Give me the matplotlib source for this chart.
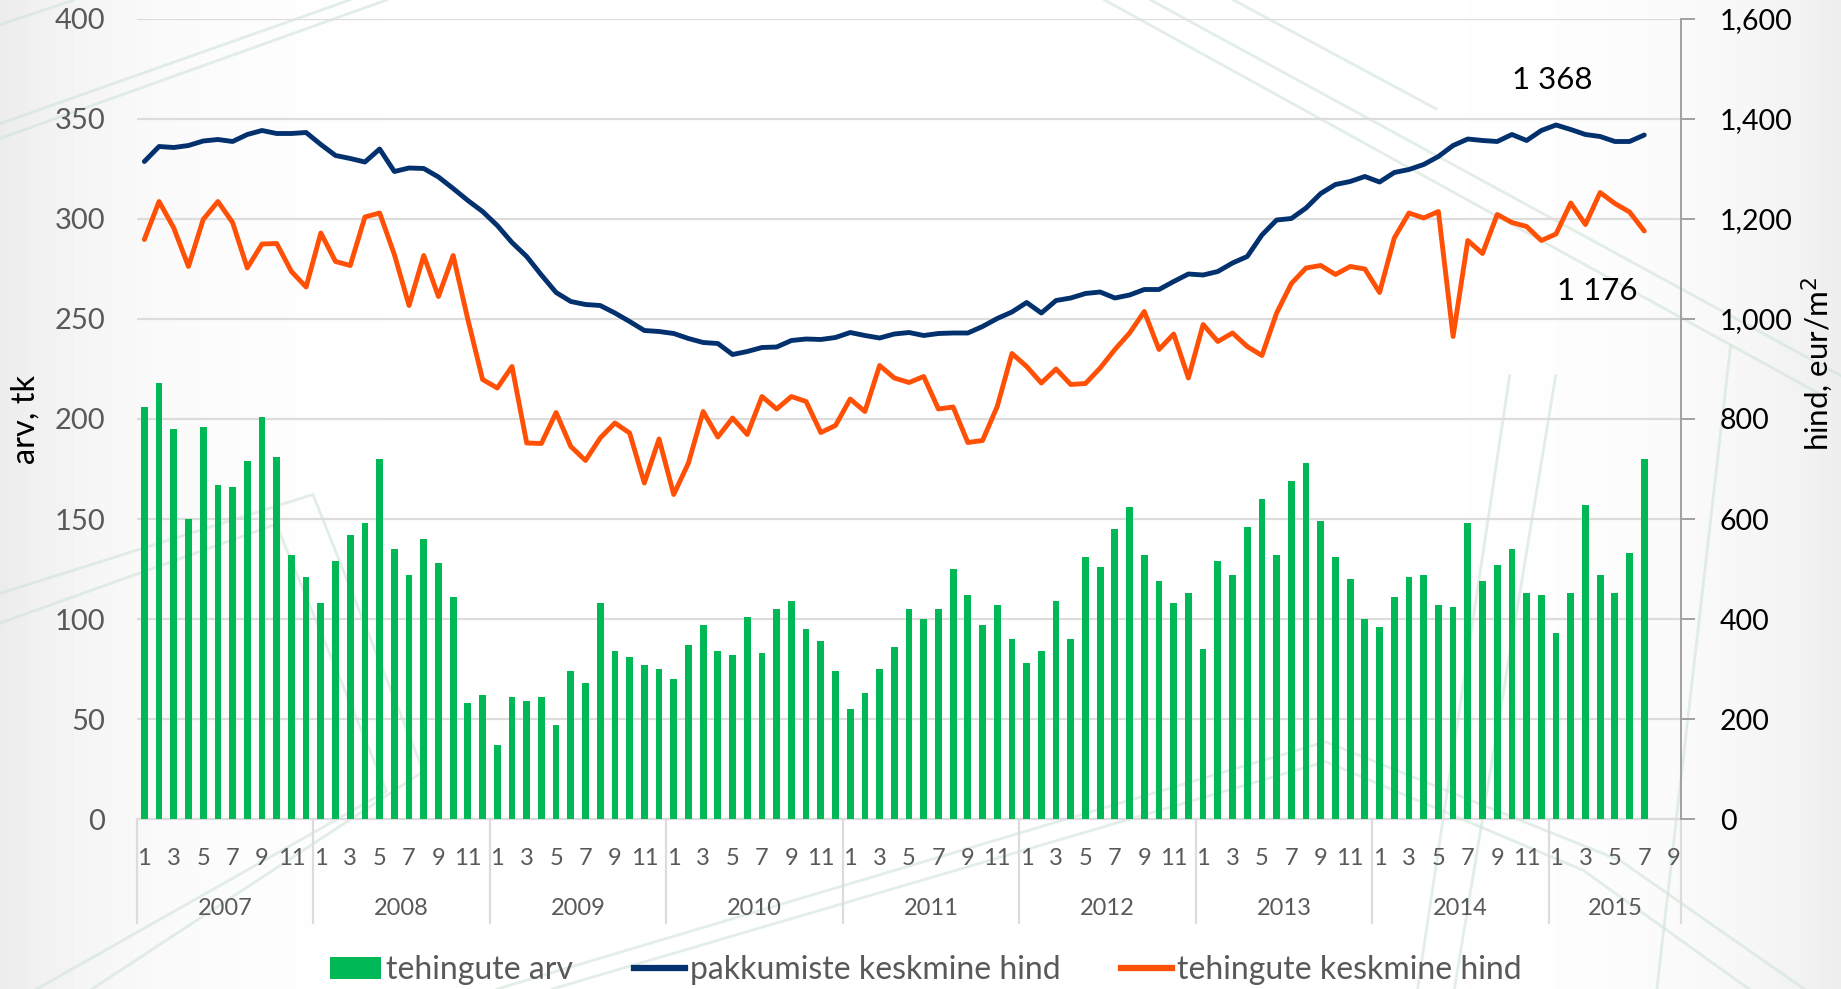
import numpy as np
import matplotlib
matplotlib.use('Agg')
import matplotlib.pyplot as plt
from matplotlib.lines import Line2D
from matplotlib.patches import Patch
import matplotlib.ticker as mticker

plt.rcParams['font.family'] = ['Lato', 'DejaVu Sans']

# andmed: 2007-01 ... 2015-07 (2015 teljel kuni 9. kuuni)
years = ['2007', '2008', '2009', '2010', '2011', '2012', '2013', '2014', '2015']
months_in_year = [12, 12, 12, 12, 12, 12, 12, 12, 9]

tehingute_arv = [
    206, 218, 195, 150, 196, 167, 166, 179, 201, 181, 132, 121,
    108, 129, 142, 148, 180, 135, 122, 140, 128, 111, 58, 62,
    37, 61, 59, 61, 47, 74, 68, 108, 84, 81, 77, 75,
    70, 87, 97, 84, 82, 101, 83, 105, 109, 95, 89, 74,
    55, 63, 75, 86, 105, 100, 105, 125, 112, 97, 107, 90,
    78, 84, 109, 90, 131, 126, 145, 156, 132, 119, 108, 113,
    85, 129, 122, 146, 160, 132, 169, 178, 149, 131, 120, 100,
    96, 111, 121, 122, 107, 106, 148, 119, 127, 135, 113, 112,
    93, 113, 157, 122, 113, 133, 180,
]

pakkumiste_hind = [
    1315, 1345, 1343, 1347, 1356, 1359, 1355, 1369, 1377, 1371, 1371, 1373,
    1349, 1327, 1321, 1314, 1340, 1295, 1302, 1301, 1284, 1261, 1237, 1215,
    1187, 1153, 1125, 1088, 1053, 1035, 1029, 1027, 1012, 995, 977, 975,
    971, 961, 953, 951, 929, 935, 943, 944, 957, 960, 959, 963,
    973, 967, 962, 970, 973, 967, 971, 972, 972, 985, 1001, 1014,
    1033, 1012, 1037, 1042, 1051, 1054, 1042, 1048, 1059, 1059, 1075, 1090,
    1088, 1095, 1112, 1125, 1168, 1198, 1201, 1222, 1251, 1269, 1275, 1285,
    1274, 1293, 1299, 1309, 1325, 1347, 1360, 1357, 1355, 1369, 1357, 1377,
    1388, 1379, 1369, 1365, 1355, 1355, 1368,
]

tehingute_hind = [
    1159, 1235, 1182, 1105, 1199, 1235, 1193, 1102, 1150, 1151, 1095, 1064,
    1172, 1115, 1107, 1204, 1212, 1129, 1027, 1127, 1045, 1127, 999, 879,
    862, 905, 752, 751, 813, 745, 717, 762, 792, 772, 672, 760,
    649, 712, 815, 764, 802, 769, 845, 820, 845, 835, 773, 787,
    840, 815, 907, 882, 873, 885, 820, 824, 753, 757, 825, 931,
    905, 872, 900, 869, 871, 902, 939, 972, 1015, 939, 970, 882,
    989, 955, 972, 945, 927, 1012, 1071, 1102, 1107, 1089, 1105, 1100,
    1053, 1162, 1212, 1202, 1215, 965, 1157, 1131, 1209, 1193, 1185, 1157,
    1170, 1232, 1189, 1253, 1231, 1214, 1176,
]

legend_labels = ['tehingute arv', 'pakkumiste keskmine hind', 'tehingute keskmine hind']

GREEN = '#00B956'
BLUE = '#03316E'
ORANGE = '#FF5005'
GRID = '#dcdcdc'
LBL = '#595959'

n_cat = sum(months_in_year)
x = np.arange(len(tehingute_arv))

fig = plt.figure(figsize=(18.41, 9.89), dpi=100)

# taust: hall serv ja heledad dekoratiivjooned
bg = fig.add_axes([0, 0, 1, 1], zorder=-10)
gx = np.linspace(0, 1, 400)
shade = 1 - 0.075 * np.exp(-gx / 0.07) - 0.07 * np.exp(-(1 - gx) / 0.07)
bg.imshow(np.tile(shade, (10, 1)), cmap='gray', vmin=0, vmax=1, aspect='auto',
          extent=[0, 1, 0, 1])
deco = [
    [(0.0, 0.875), (0.19, 1.0)], [(0.0, 0.86), (0.21, 1.0)],
    [(0.0, 0.975), (0.04, 1.0)],
    [(0.60, 1.0), (0.99, 0.60)], [(0.625, 1.0), (1.0, 0.62)],
    [(0.67, 1.0), (0.78, 0.89)],
    [(0.0, 0.40), (0.17, 0.50), (0.23, 0.22), (0.05, 0.0)],
    [(0.0, 0.37), (0.15, 0.47), (0.21, 0.2), (0.02, 0.0)],
    [(0.27, 0.0), (0.72, 0.25), (0.88, 0.13), (0.98, 0.0)],
    [(0.30, 0.0), (0.72, 0.23), (0.86, 0.12), (0.95, 0.0)],
    [(0.77, 0.0), (0.82, 0.62)], [(0.79, 0.0), (0.845, 0.62)],
    [(0.90, 0.0), (0.94, 0.65)],
]
for pts in deco:
    xs, ys = zip(*pts)
    bg.plot(xs, ys, color='#cfe3d6', lw=2, alpha=0.6)
bg.set_xlim(0, 1)
bg.set_ylim(0, 1)
bg.axis('off')

ax = fig.add_axes([0.07442, 0.17189, 0.83868, 0.80890])
ax.set_facecolor('none')
ax2 = ax.twinx()

ax.bar(x, tehingute_arv, width=0.46, color=GREEN, zorder=3)
ax2.plot(x, pakkumiste_hind, color=BLUE, lw=3.5, solid_joinstyle='round', solid_capstyle='round')
ax2.plot(x, tehingute_hind, color=ORANGE, lw=3.5, solid_joinstyle='round', solid_capstyle='round')

ax.set_xlim(-0.5, n_cat - 0.5)
ax.set_ylim(0, 400)
ax2.set_ylim(0, 1600)
ax.set_yticks(np.arange(0, 401, 50))
ax2.set_yticks(np.arange(0, 1601, 200))
ax2.yaxis.set_major_formatter(mticker.FuncFormatter(lambda v, p: f'{v:,.0f}'))

ax.yaxis.grid(True, color=GRID, lw=1.6, zorder=0)
ax.set_axisbelow(True)
for s in ['left', 'top']:
    ax.spines[s].set_visible(False)
    ax2.spines[s].set_visible(False)
ax.spines['right'].set_visible(False)
ax.spines['bottom'].set_color(GRID)
ax.spines['bottom'].set_linewidth(1.6)
ax2.spines['bottom'].set_visible(False)
ax2.spines['right'].set_color('#a0a0a0')
ax2.spines['right'].set_linewidth(1.4)

ax.tick_params(axis='y', length=0, pad=23, labelsize=21, labelcolor=LBL)
ax2.tick_params(axis='y', length=10, width=1.4, color='#a0a0a0', pad=18,
                labelsize=20.5, labelcolor='black', direction='out')

# kahetasemeline x-telg: kuud ja aastad
ax.set_xticks([])
tr = ax.get_xaxis_transform()
start = 0
for yr, nm in zip(years, months_in_year):
    for m in range(1, nm + 1, 2):
        ax.text(start + m - 1, -0.0575, str(m), transform=tr, ha='center', va='baseline',
                fontsize=17, color=LBL)
    ax.text(start + (nm - 1) / 2, -0.12, yr, transform=tr, ha='center', va='baseline',
            fontsize=17, color=LBL)
    ax.plot([start - 0.5, start - 0.5], [0, -0.13], transform=tr, color=GRID, lw=1.6,
            clip_on=False)
    start += nm
ax.plot([start - 0.5, start - 0.5], [0, -0.13], transform=tr, color=GRID, lw=1.6, clip_on=False)

fig.text(0.0141, 0.5763, 'arv, tk', rotation=90, ha='center', va='center', fontsize=23.5, color='black')
fig.text(0.987, 0.632, 'hind, eur/m$^2$', rotation=90, ha='center', va='center', fontsize=22.5,
         color='black')

ax2.annotate('1 368', xy=(x[-1], pakkumiste_hind[-1]), xytext=(-92, 55), textcoords='offset pixels',
             ha='center', va='center', fontsize=22.5, color='black')
ax2.annotate('1 176', xy=(x[-1], tehingute_hind[-1]), xytext=(-47, -60), textcoords='offset pixels',
             ha='center', va='center', fontsize=22.5, color='black')

handles = [Patch(facecolor=GREEN, edgecolor='none'),
           Line2D([], [], color=BLUE, lw=4.5),
           Line2D([], [], color=ORANGE, lw=4.5)]
leg = fig.legend(handles, legend_labels, loc='center', bbox_to_anchor=(0.503, 1 - 970 / 989), ncol=3,
                 frameon=False, fontsize=23, handlelength=1.6, handleheight=0.7,
                 handletextpad=0.15, columnspacing=1.9)
for t in leg.get_texts():
    t.set_color(LBL)

fig.savefig('out.png', dpi=100)
